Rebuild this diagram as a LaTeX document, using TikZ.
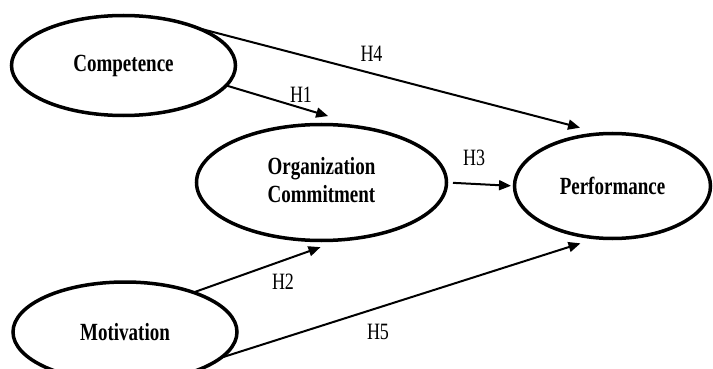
\documentclass[tikz,border=0pt]{standalone}
\usepackage{fontspec}
\setmainfont{Liberation Serif}
\usepackage{graphicx}
\usepackage{tkz-graph}
\usetikzlibrary{arrows, arrows.meta, shapes.geometric}
\newcommand{\Tall}[1]{\scalebox{1}[1.3]{#1}}

\begin{document}
\begin{tikzpicture}[x = 1pt, y = -1pt]
\tikzstyle{VertexStyle}=[
shape = ellipse,
inner sep = 0pt,
line width = 3.5pt,
font = \bfseries\fontsize{19}{21.5}\selectfont,
draw]
\tikzstyle{EdgeStyle}=[line width = 2pt]
\tikzstyle{post}=[-{Triangle[length = 12pt, width = 10pt]}]
\tikzstyle{hyp}=[inner sep = 0pt, font = \fontsize{18}{20}\selectfont]
\useasboundingbox (0,0) rectangle (713,369);
\Vertex[style = {minimum width = 224pt, minimum height = 100pt}, x = 123.5, y = 65.5, L = \Tall{Competence}]{comp}
\Vertex[style = {minimum width = 250pt, minimum height = 116pt}, x = 321.5, y = 182.5, L = {\Tall{\begin{tabular}{@{}c@{}}Organization\\Commitment\end{tabular}}}]{org}
\Vertex[style = {minimum width = 196pt, minimum height = 105pt}, x = 612.5, y = 186, L = \Tall{Performance}]{perf}
\Vertex[style = {minimum width = 224pt, minimum height = 100pt}, x = 125, y = 332, L = \Tall{Motivation}]{mot}
\Edge[style = {post, shorten >= 48pt}](comp.349)(org.45)
\Edge[style = {post, shorten >= 22pt}](mot.30)(org.289)
\Edge[style = {post, shorten <= 6.5pt, shorten >= 3.5pt}](org.east)(perf.west)
\Edge[style = {post, shorten >= 24pt}](comp.27)(perf.100)
\Edge[style = {post, shorten >= 18pt}](mot.345)(perf.254)
\node[hyp] (h1) at (301,95) {\Tall{H1}};
\node[hyp] (h2) at (283,282) {\Tall{H2}};
\node[hyp] (h3) at (474,158) {\Tall{H3}};
\node[hyp] (h4) at (371.5,54) {\Tall{H4}};
\node[hyp] (h5) at (378,332) {\Tall{H5}};
\end{tikzpicture}
\end{document}
